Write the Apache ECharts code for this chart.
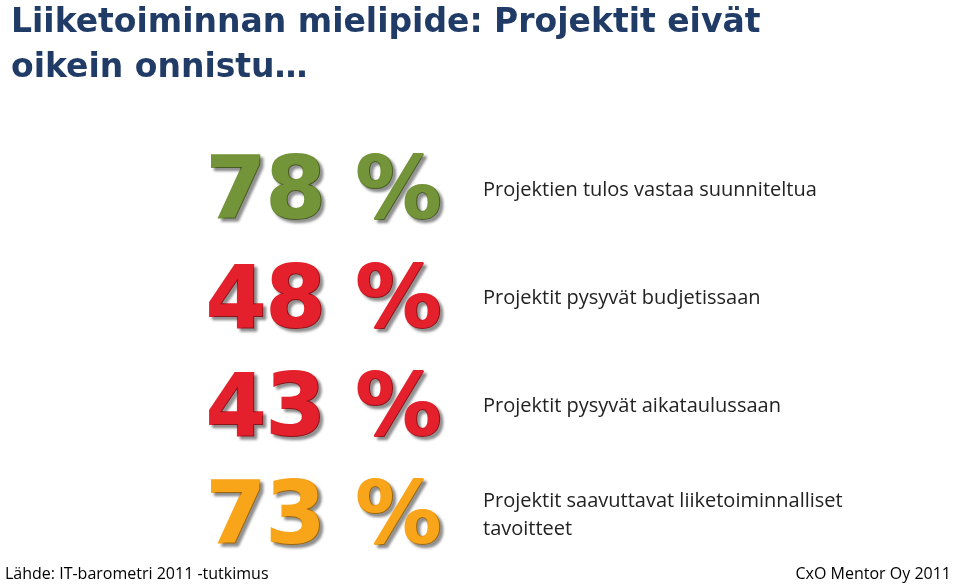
<!DOCTYPE html>
<html><head><meta charset="utf-8">
<script src="https://cdn.jsdelivr.net/npm/echarts@6/dist/echarts.min.js"></script>
<style>html,body{margin:0;padding:0;background:#fff}#c{width:960px;height:586px}</style>
</head><body><div id="c"></div>
<script>
const categories = ["Projektien tulos vastaa suunniteltua","Projektit pysyvät budjetissaan","Projektit pysyvät aikataulussaan","Projektit saavuttavat liiketoiminnalliset\ntavoitteet"];
const values = [78, 48, 43, 73];
const colors = ["#74943A", "#E3202B", "#E3202B", "#F9A51A"];
const chart = echarts.init(document.getElementById('c'));
chart.setOption({
  backgroundColor: '#fff',
  animation: false,
  title: [
    {text: 'Liiketoiminnan mielipide: Projektit eivät\noikein onnistu…', left: 6, top: -4,
     textStyle: {fontFamily: 'DejaVu Sans', fontWeight: 'bold', fontSize: 33, lineHeight: 45, color: '#1F3B66'}},
    {text: 'Lähde: IT-barometri 2011 -tutkimus', left: 0, bottom: -1,
     textStyle: {fontFamily: 'Open Sans', fontWeight: 'normal', fontSize: 16, color: '#000'}},
    {text: 'CxO Mentor Oy 2011', right: 4, bottom: -1,
     textStyle: {fontFamily: 'Open Sans', fontWeight: 'normal', fontSize: 16, color: '#000'}}
  ],
  grid: {left: 0, right: 0, top: 136, bottom: 17},
  xAxis: {type: 'value', min: 0, max: 960, show: false},
  yAxis: {type: 'category', data: categories, inverse: true, show: false},
  series: [
    {type: 'scatter', symbolSize: 0, itemStyle: {opacity: 1},
     data: values.map((v, i) => ({value: [442, i], itemStyle: {color: colors[i], opacity: 1},
       label: {color: colors[i]}})),
     label: {show: true, position: 'left', distance: 0, offset: [0, 6], opacity: 1,
       formatter: p => values[p.dataIndex] + ' %',
       fontFamily: 'DejaVu Sans', fontWeight: 'bold', fontSize: 86,
       textBorderColor: 'inherit', textBorderWidth: 2,
       textShadowColor: 'rgba(0,0,0,0.4)', textShadowBlur: 3, textShadowOffsetX: 3, textShadowOffsetY: 3}},
    {type: 'scatter', symbolSize: 0, itemStyle: {opacity: 1},
     data: categories.map((c, i) => [483, i]),
     label: {show: true, position: 'right', distance: 0, opacity: 1,
       formatter: p => categories[p.dataIndex],
       fontFamily: 'Open Sans', fontSize: 20, lineHeight: 28, color: '#222'}}
  ]
});
</script></body></html>
